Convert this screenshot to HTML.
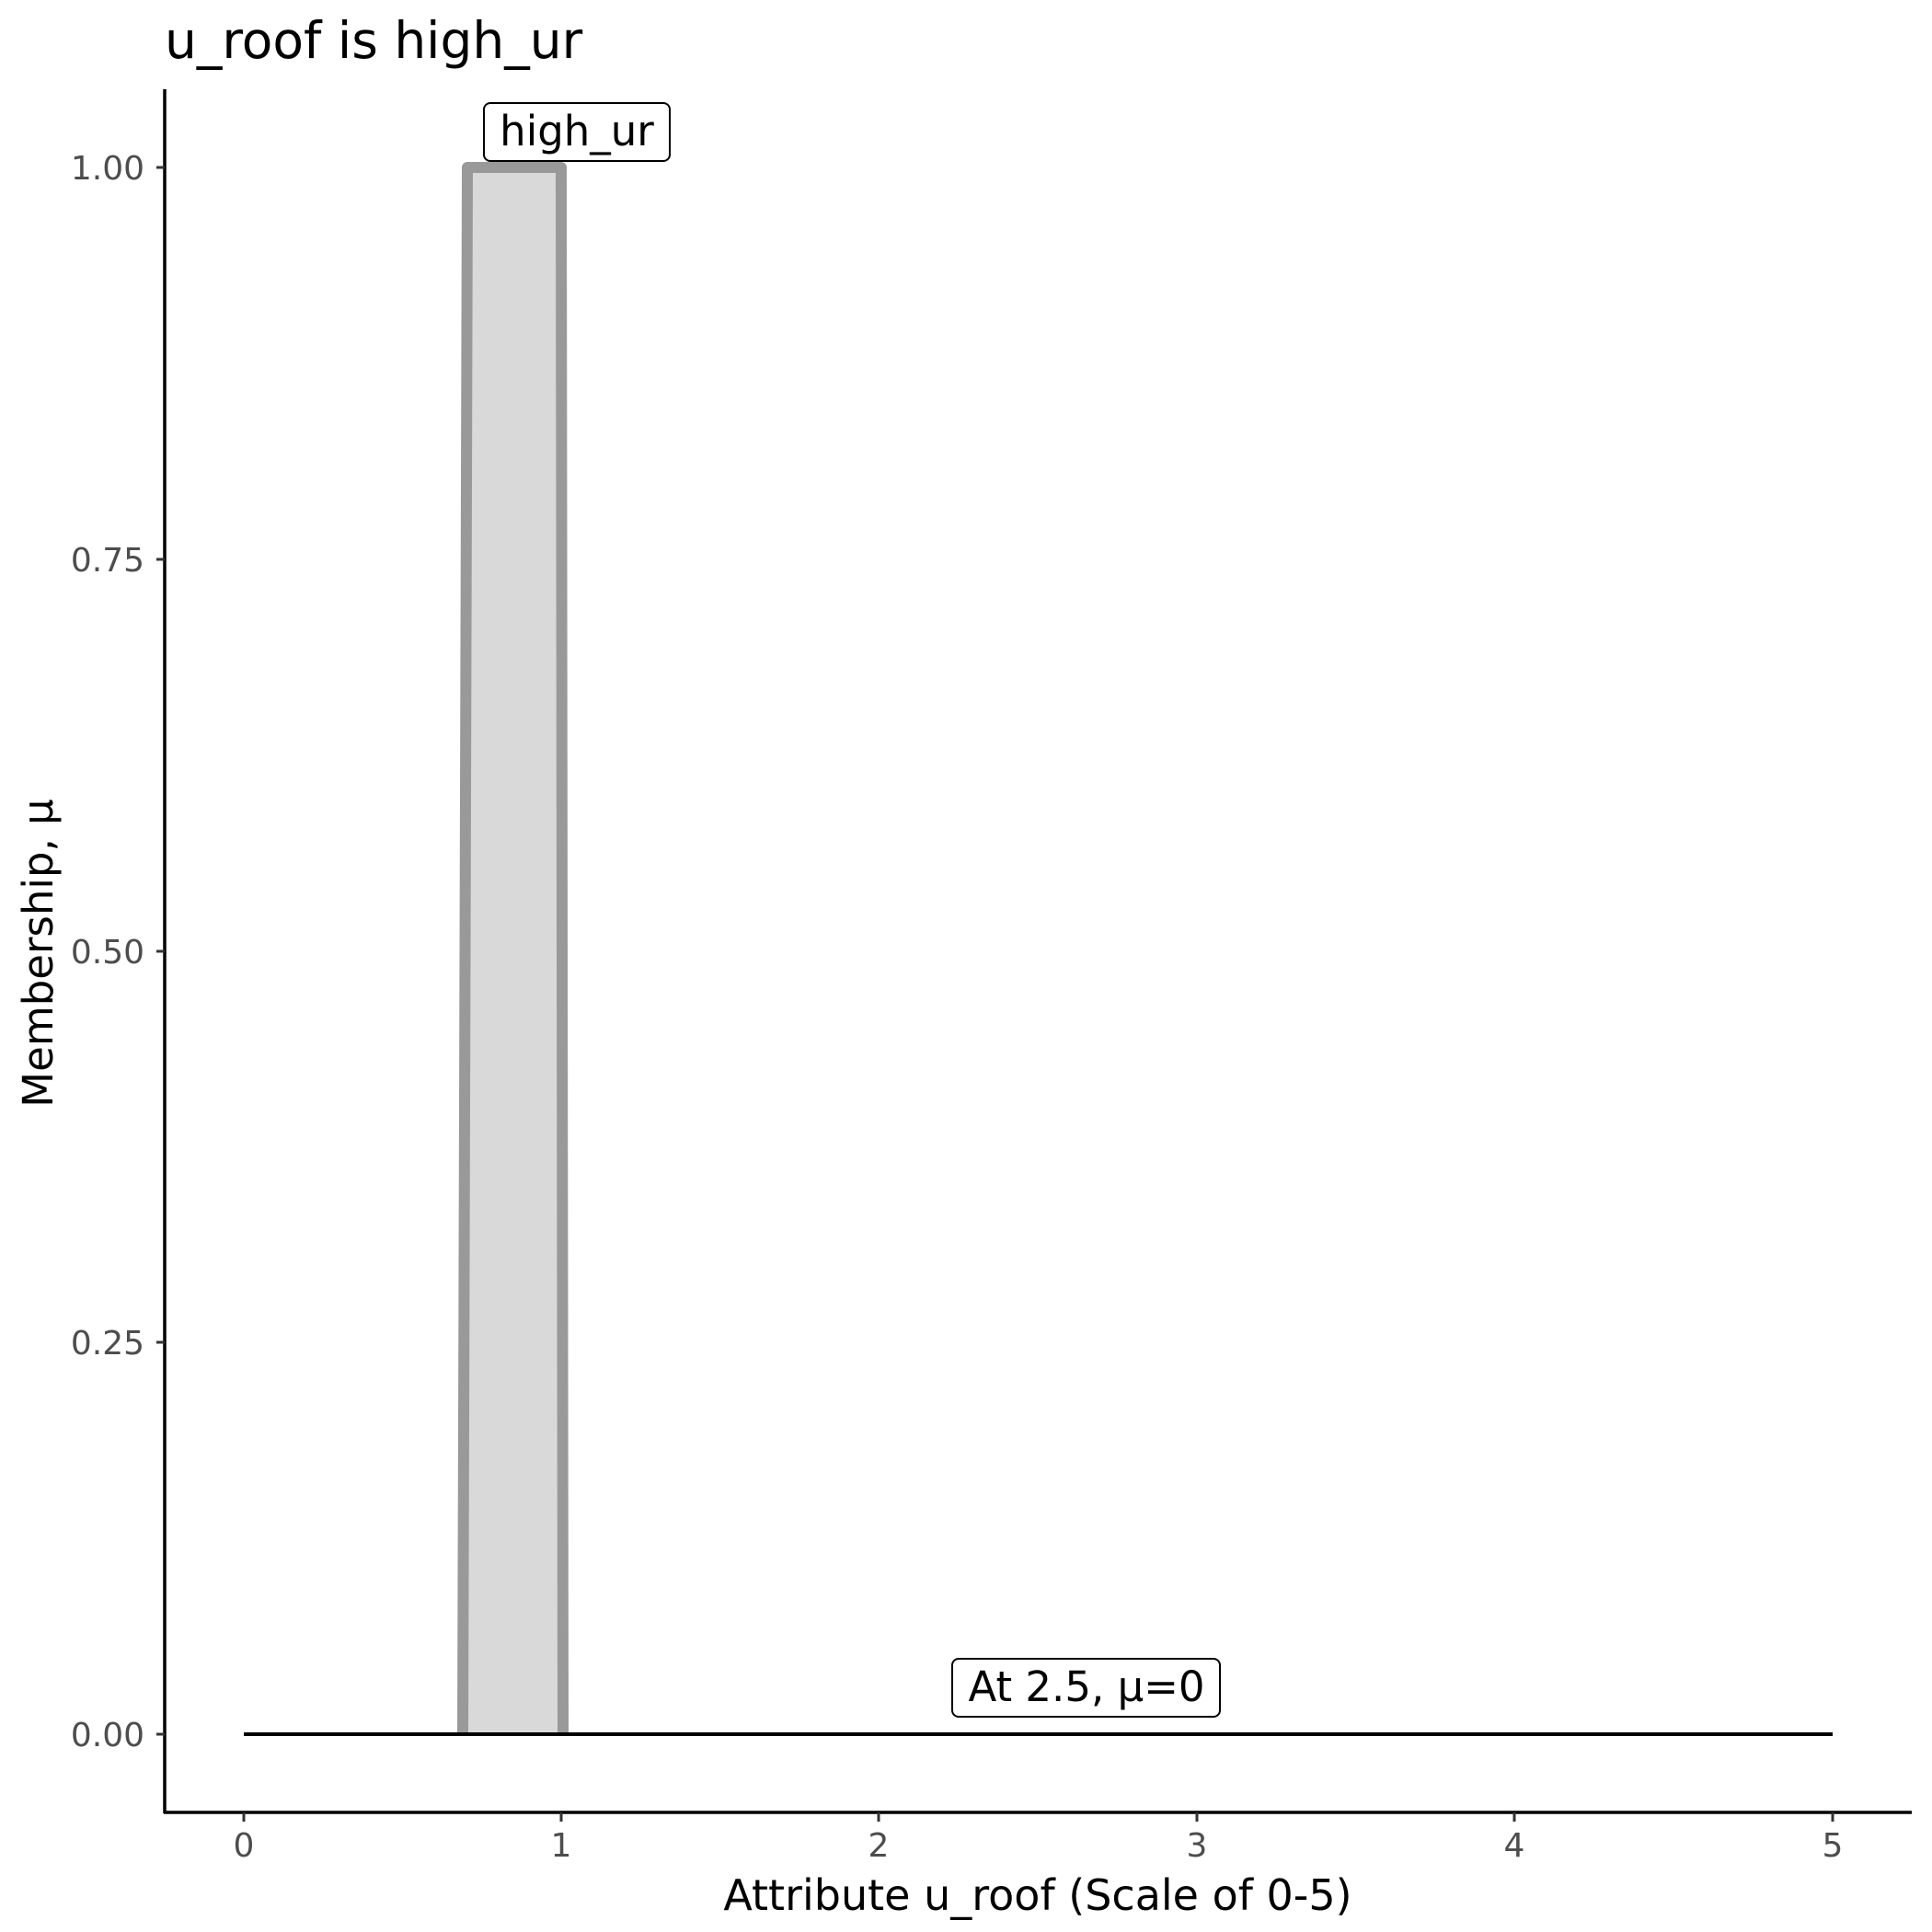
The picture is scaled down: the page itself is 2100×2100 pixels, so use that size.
<!DOCTYPE html>
<html><head><meta charset="utf-8"><style>
html,body{margin:0;padding:0;background:#fff;}
svg{display:block;font-family:"DejaVu Sans","Liberation Sans",sans-serif;}
</style></head><body>
<svg width="2100" height="2100" viewBox="0 0 2100 2100" xmlns="http://www.w3.org/2000/svg">
<rect width="2100" height="2100" fill="#fff"/>
<text x="179" y="63" font-size="55" fill="#000">u_roof is high_ur</text>
<!-- shape -->
<polygon points="503,1885 508,182 610,182 612,1885" fill="#d9d9d9" stroke="none"/>
<polyline points="503,1885 508,182 610,182 612,1885" fill="none" stroke="#999999" stroke-width="12" stroke-linejoin="round"/>
<!-- zero line -->
<line x1="265" y1="1885" x2="1992" y2="1885" stroke="#000" stroke-width="4"/>
<!-- axes -->
<line x1="179" y1="97" x2="179" y2="1971" stroke="#000" stroke-width="3.5"/>
<line x1="178" y1="1970" x2="2078" y2="1970" stroke="#000" stroke-width="3.5"/>
<g stroke="#333" stroke-width="3">
<line x1="170" y1="182" x2="179" y2="182"/>
<line x1="170" y1="608" x2="179" y2="608"/>
<line x1="170" y1="1034" x2="179" y2="1034"/>
<line x1="170" y1="1459" x2="179" y2="1459"/>
<line x1="170" y1="1885" x2="179" y2="1885"/>
<line x1="265" y1="1970" x2="265" y2="1980"/>
<line x1="610" y1="1970" x2="610" y2="1980"/>
<line x1="955" y1="1970" x2="955" y2="1980"/>
<line x1="1301" y1="1970" x2="1301" y2="1980"/>
<line x1="1646" y1="1970" x2="1646" y2="1980"/>
<line x1="1992" y1="1970" x2="1992" y2="1980"/>
</g>
<g font-size="36" fill="#4d4d4d" text-anchor="end">
<text x="157" y="195">1.00</text>
<text x="157" y="621">0.75</text>
<text x="157" y="1047">0.50</text>
<text x="157" y="1472">0.25</text>
<text x="157" y="1898">0.00</text>
</g>
<g font-size="36" fill="#4d4d4d" text-anchor="middle">
<text x="265" y="2018">0</text>
<text x="610" y="2018">1</text>
<text x="955" y="2018">2</text>
<text x="1301" y="2018">3</text>
<text x="1646" y="2018">4</text>
<text x="1992" y="2018">5</text>
</g>
<text x="1128" y="2076" font-size="46" text-anchor="middle" fill="#000">Attribute u_roof (Scale of 0-5)</text>
<text transform="translate(57,1036) rotate(-90)" font-size="45" text-anchor="middle" fill="#000">Membership, μ</text>
<!-- labels -->
<rect x="526" y="112" width="202" height="63" rx="7" fill="#fff" stroke="#000" stroke-width="2"/>
<text x="627" y="158" font-size="45" text-anchor="middle" fill="#000">high_ur</text>
<rect x="1035" y="1803" width="291" height="63" rx="7" fill="#fff" stroke="#000" stroke-width="2"/>
<text x="1181" y="1849" font-size="45" text-anchor="middle" fill="#000">At 2.5, μ=0</text>
</svg>
</body></html>
